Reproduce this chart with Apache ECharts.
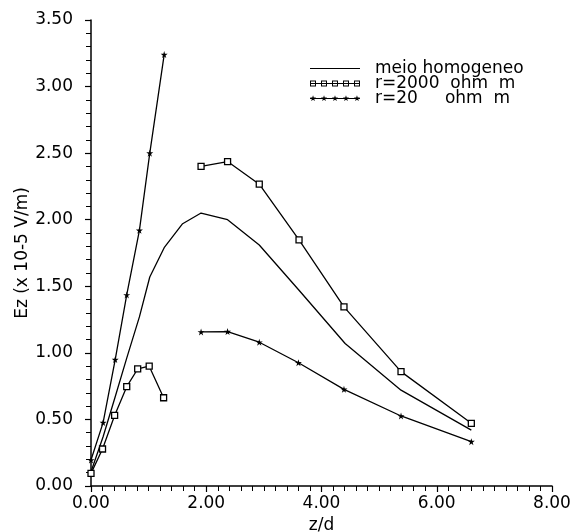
<!DOCTYPE html>
<html>
<head>
<meta charset="utf-8">
<script src="https://cdn.jsdelivr.net/npm/echarts@6/dist/echarts.min.js"></script>
<style>html,body{margin:0;padding:0;background:#fff}#c{width:578px;height:532px}</style>
</head>
<body>
<div id="c"></div>
<script>
const seriesNames = ['meio homogeneo', 'r=2000  ohm  m', 'r=20     ohm  m'];
const homX = [0, 0.21, 0.42, 0.62, 0.84, 1.02, 1.27, 1.59, 1.91, 2.37, 2.92, 3.61, 4.41, 5.38, 6.6];
const homY = [0.107, 0.37, 0.67, 0.96, 1.27, 1.57, 1.79, 1.97, 2.05, 2.0, 1.81, 1.47, 1.07, 0.72, 0.42];
const sqX = [0, 0.2, 0.41, 0.62, 0.81, 1.01, 1.26, null, 1.91, 2.37, 2.92, 3.61, 4.39, 5.38, 6.6];
const sqY = [0.095, 0.278, 0.53, 0.746, 0.879, 0.90, 0.663, null, 2.40, 2.437, 2.267, 1.848, 1.345, 0.859, 0.471];
const stX = [0, 0.21, 0.42, 0.62, 0.84, 1.02, 1.27, null, 1.91, 2.37, 2.92, 3.6, 4.39, 5.38, 6.6];
const stY = [0.195, 0.476, 0.95, 1.435, 1.92, 2.50, 3.24, null, 1.157, 1.16, 1.08, 0.926, 0.726, 0.526, 0.333];
const xTicks = {min: 0, max: 8, interval: 2};
const yTicks = {min: 0, max: 3.5, interval: 0.5};

function pairs(xs, ys) {
  return xs.map((x, i) => (x === null || ys[i] === null) ? [null, null] : [x, ys[i]]);
}
const starPath = 'path://M50,0 L61,35 L98,35 L68,57 L79,91 L50,70 L21,91 L32,57 L2,35 L39,35 Z';

// legend icons (50 x 8 box)
const iconCenters = [3, 14, 25, 36, 47];
const bbox = 'M0,0 L0,0 Z M50,8 L50,8 Z ';
const lineSeg = 'M0,3.45 L50,3.45 L50,4.55 L0,4.55 Z ';
function sqIcon() {
  let p = bbox + lineSeg;
  iconCenters.forEach(c => {
    p += `M${c-3},1 L${c+3},1 L${c+3},7 L${c-3},7 Z M${c-2},2 L${c-2},6 L${c+2},6 L${c+2},2 Z `;
  });
  return 'path://' + p;
}
function starIcon() {
  let p = bbox + lineSeg;
  iconCenters.forEach(c => {
    const pts = [];
    for (let k = 0; k < 10; k++) {
      const r = k % 2 === 0 ? 3.2 : 1.3;
      const a = -Math.PI / 2 + k * Math.PI / 5;
      pts.push((c + r * Math.cos(a)).toFixed(2) + ',' + (4 + r * Math.sin(a)).toFixed(2));
    }
    p += 'M' + pts.join(' L') + ' Z ';
  });
  return 'path://' + p;
}
const legendStyle = {color: '#000', borderWidth: 0};

const font = 'DejaVu Sans';
const chart = echarts.init(document.getElementById('c'), null, {renderer: 'canvas'});
chart.setOption({
  animation: false,
  backgroundColor: '#fff',
  grid: {left: 91, right: 26, top: 20, bottom: 46, containLabel: false, outerBoundsMode: 'none'},
  legend: {
    orient: 'vertical', left: 305, top: 55, itemGap: -2,
    itemWidth: 50, itemHeight: 8,
    textStyle: {fontFamily: font, fontSize: 17, color: '#000', padding: [0, 0, 0, 10], lineHeight: 15},
    data: [
      {name: seriesNames[0], icon: 'path://' + bbox + lineSeg, itemStyle: legendStyle},
      {name: seriesNames[1], icon: sqIcon(), itemStyle: legendStyle},
      {name: seriesNames[2], icon: starIcon(), itemStyle: legendStyle}
    ]
  },
  xAxis: {
    type: 'value', min: xTicks.min, max: xTicks.max, interval: xTicks.interval,
    name: 'z/d', nameLocation: 'middle', nameGap: 31, nameMoveOverlap: false,
    nameTextStyle: {fontFamily: font, fontSize: 17, color: '#000'},
    axisLine: {lineStyle: {color: '#000', width: 1.5}},
    axisTick: {length: 6, lineStyle: {color: '#000', width: 1.2}},
    minorTick: {show: true, splitNumber: 10, length: 5, lineStyle: {color: '#000', width: 1}},
    splitLine: {show: false},
    axisLabel: {fontFamily: font, fontSize: 17, color: '#000', margin: 9, formatter: v => v.toFixed(2)}
  },
  yAxis: {
    type: 'value', min: yTicks.min, max: yTicks.max, interval: yTicks.interval,
    name: 'Ez (x 10-5 V/m)', nameLocation: 'middle', nameGap: 60, nameMoveOverlap: false,
    nameTextStyle: {fontFamily: font, fontSize: 17, color: '#000'},
    axisLine: {show: true, lineStyle: {color: '#000', width: 1.5}},
    axisTick: {show: true, length: 6, lineStyle: {color: '#000', width: 1.2}},
    minorTick: {show: true, splitNumber: 5, length: 5, lineStyle: {color: '#000', width: 1}},
    splitLine: {show: false},
    axisLabel: {fontFamily: font, fontSize: 17, color: '#000', margin: 18, formatter: v => v.toFixed(2)}
  },
  series: [
    {name: seriesNames[0], type: 'line', data: pairs(homX, homY), showSymbol: false, symbol: 'none',
     lineStyle: {color: '#000', width: 1.3}, itemStyle: {color: '#000'}},
    {name: seriesNames[1], type: 'line', data: pairs(sqX, sqY), connectNulls: false,
     symbol: 'rect', symbolSize: 6,
     lineStyle: {color: '#000', width: 1.3}, itemStyle: {color: '#fff', borderColor: '#000', borderWidth: 1.3}},
    {name: seriesNames[2], type: 'line', data: pairs(stX, stY), connectNulls: false,
     symbol: starPath, symbolSize: 7,
     lineStyle: {color: '#000', width: 1.3}, itemStyle: {color: '#000'}}
  ]
});
</script>
</body>
</html>
